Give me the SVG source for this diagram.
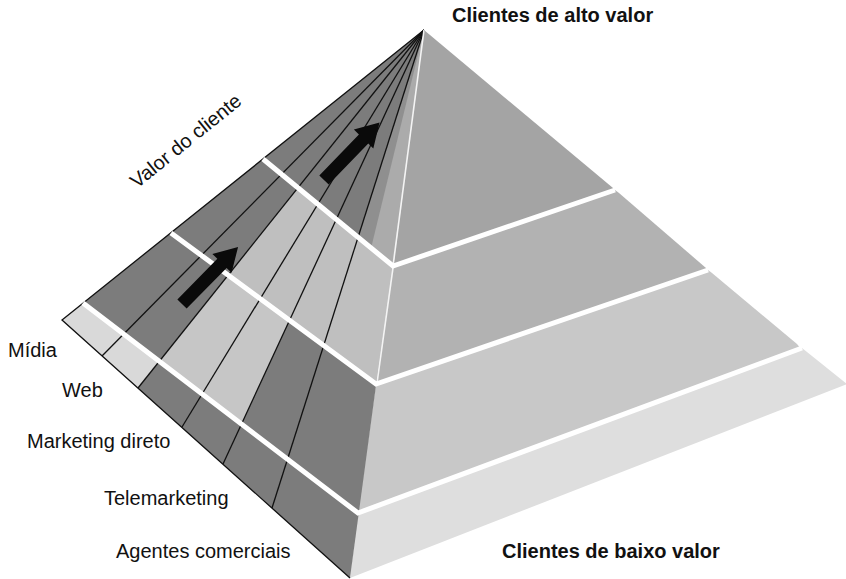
<svg xmlns="http://www.w3.org/2000/svg" width="846" height="579" viewBox="0 0 846 579">
<style>
  .dark { fill: #7c7c7c; }
  .chan { stroke: #111; stroke-width: 1.3; fill: none; }
  .sep { stroke: #ffffff; stroke-width: 5; fill: none; stroke-linejoin: miter; }
  .ridge { stroke: #f4f4f4; stroke-width: 1.6; fill: none; }
  .arrow { fill: #0a0a0a; }
  .lbl { font-family: "Liberation Sans", Arial, sans-serif; font-size: 20px; fill: #111; }
  .ttl { font-family: "Liberation Sans", Arial, sans-serif; font-size: 20px; font-weight: bold; fill: #111; }
</style>
<defs>
  <clipPath id="lt1"><polygon points="424,30 263,159 393,266"/></clipPath>
  <clipPath id="lt2"><polygon points="263,159 393,266 376,384 171,233"/></clipPath>
  <clipPath id="lt3"><polygon points="171,233 376,384 358,513 83,303"/></clipPath>
  <clipPath id="lt4"><polygon points="83,303 358,513 350,578 62,320"/></clipPath>
  <polygon id="arr" points="0,-6.5 57,-6.5 57,-13.5 80,0 57,13.5 57,6.5 0,6.5"/>
</defs>
<rect width="846" height="579" fill="#ffffff"/>

<g id="right-face">
  <polygon id="tier1" points="424,30 613,188 616,192 393,268" fill="#a4a4a4"/>
  <polygon id="tier2" points="393,266 615,190 619,193 706,268 708,271 376,384" fill="#b2b2b2"/>
  <polygon id="tier3" points="376,384 708,270 712,273 797,344 801,349 358,513" fill="#c8c8c8"/>
  <polygon id="tier4" points="358,513 802,348 807,352 847,384 350,578" fill="#dedede"/>
</g>

<g id="left-face">
  <polygon class="dark" points="424,30 62,320 350,578"/>
  <polygon clip-path="url(#lt4)" points="424,30 30,300 62,320 138,388" fill="#d9d9d9"/>
  <polygon clip-path="url(#lt3)" points="424,30 138,388 223,464" fill="#c6c6c6"/>
  <polygon clip-path="url(#lt2)" points="424,30 138,388 420,620" fill="#bfbfbf"/>
  <polygon clip-path="url(#lt1)" points="424,30 272,508 420,620" fill="#8f8f8f"/>
  <polygon clip-path="url(#lt1)" points="424,30 291,578 420,620" fill="#ababab"/>
</g>

<g id="connectors">
  <polyline class="chan" points="424,30 62,320 350,578"/>
  <line class="chan" x1="424" y1="30" x2="102" y2="356"/>
  <line class="chan" x1="424" y1="30" x2="138" y2="388"/>
  <line class="chan" x1="424" y1="30" x2="182" y2="427"/>
  <line class="chan" x1="424" y1="30" x2="223" y2="464"/>
  <line class="chan" x1="424" y1="30" x2="272" y2="508"/>
</g>

<g id="separators">
  <line class="ridge" x1="424" y1="30" x2="393" y2="266"/>
  <line class="ridge" x1="393" y1="268" x2="377" y2="383"/>
  <polyline class="sep" points="263,159 393,266 615,190"/>
  <polyline class="sep" points="171,233 376,384 708,270"/>
  <polyline class="sep" points="83,303 358,513 802,348"/>
</g>

<g id="arrows">
  <use href="#arr" class="arrow" transform="translate(182,304) rotate(-45.5)"/>
  <use href="#arr" class="arrow" transform="translate(324,180) rotate(-46)"/>
</g>

<g id="labels">
  <text class="ttl" x="452" y="22">Clientes de alto valor</text>
  <text class="ttl" x="502" y="558">Clientes de baixo valor</text>
  <text class="lbl" transform="translate(137,189) rotate(-39)">Valor do cliente</text>
  <text class="lbl" x="8" y="357">Mídia</text>
  <text class="lbl" x="62" y="397">Web</text>
  <text class="lbl" x="27" y="448">Marketing direto</text>
  <text class="lbl" x="104" y="505">Telemarketing</text>
  <text class="lbl" x="116" y="558">Agentes comerciais</text>
</g>
</svg>
